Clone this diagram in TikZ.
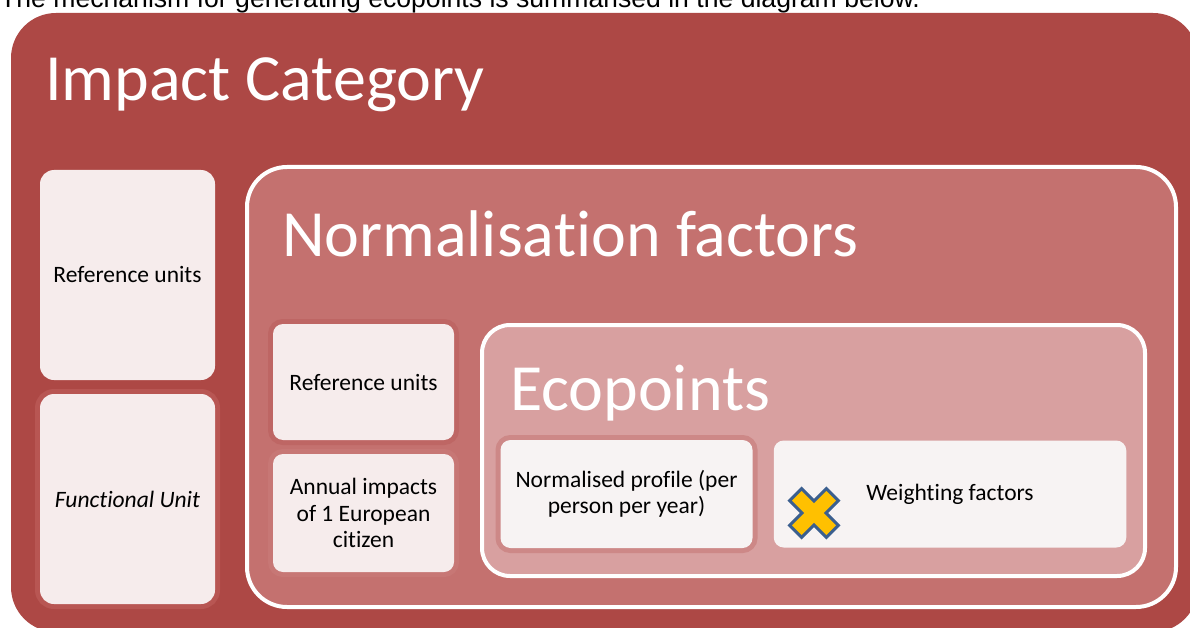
\documentclass[tikz,border=0pt]{standalone}
\usepackage{fontspec}
\setmainfont{Carlito}[Ligatures=NoCommon, Contextuals=NoAlternate, RawFeature=-liga]
\newfontfamily\arialfont{Liberation Sans}
\definecolor{outerred}{HTML}{AD4845}
\definecolor{normred}{HTML}{C4716F}
\definecolor{ecored}{HTML}{D8A0A0}
\definecolor{boxfill}{HTML}{F6ECEC}
\definecolor{ecofill}{HTML}{F7F3F3}
\definecolor{haloA}{HTML}{B85653}
\definecolor{haloB}{HTML}{BE6664}
\definecolor{haloC}{HTML}{C77775}
\definecolor{haloD}{HTML}{CD8887}
\definecolor{xblue}{HTML}{3B5F8F}
\definecolor{xyellow}{HTML}{FFC000}
\begin{document}
\begin{tikzpicture}[x=1pt,y=-1pt,
  lightbox/.style={rectangle, rounded corners=#1, fill=boxfill, inner sep=0pt, outer sep=0pt,
    font=\fontsize{23.5}{26.5}\selectfont, align=center, text=black},
  lightbox/.default=10pt,
  halo/.style={preaction={draw=#1, line width=10pt}},
  bigbox/.style={rectangle, inner sep=0pt, outer sep=0pt, draw=white, line width=4pt},
  titletext/.style={anchor=base west, inner sep=0pt, outer sep=0pt, text=white,
    font=\fontsize{66}{70}\selectfont}]
\useasboundingbox (0,0) rectangle (1190,628);
\clip (0,0) rectangle (1190,628);
\fill[white] (0,0) rectangle (1190,628);
% outer box
\node[rectangle, rounded corners=45pt, fill=outerred, inner sep=0pt, outer sep=0pt,
  minimum width=1187pt, minimum height=619pt] (impact) at (604.5,322.5) {};
% normalisation box
\node[bigbox, rounded corners=40pt, fill=normred, minimum width=929pt, minimum height=440pt]
  (norm) at (711.5,387) {};
% ecopoints box
\node[bigbox, rounded corners=28pt, fill=ecored, minimum width=663pt, minimum height=251pt]
  (eco) at (813.5,450.5) {};
% left column
\node[lightbox=14pt, minimum width=175pt, minimum height=210pt] (lref) at (127.5,275) {Reference units};
\node[lightbox=14pt, halo=haloA, minimum width=175pt, minimum height=210pt] (lfu) at (127.5,499) {\itshape Func\hbox{t}ional Unit};
% normalisation column
\node[lightbox, halo=haloB, minimum width=181pt, minimum height=116pt] (nref) at (363.5,382) {Reference units};
\node[lightbox, halo=haloC, minimum width=181pt, minimum height=118pt] (nann) at (363.5,513) {Annual impacts\\of 1 European\\citizen};
% ecopoints boxes
\node[lightbox, halo=haloD, fill=ecofill, minimum width=252pt, minimum height=108pt] (eprof) at (626.5,494) {Normalised profile (per\\person per year)};
\node[lightbox, fill=ecofill, minimum width=352.5pt, minimum height=107pt] (ewt) at (950,494) {Weighting factors};
% titles
\node[titletext] (timpact) at (45,101) {Impact Category};
\node[titletext] (tnorm) at (282,256) {Normalisa\hbox{t}ion factors};
\node[titletext] (teco) at (510,410) {Ecopoints};
% X icon
\coordinate (xicon) at (814,513);
\begin{scope}[shift={(xicon)}, rotate=45]
  \draw[draw=xblue, fill=xyellow, line width=3pt, line join=miter]
    (8.5,8.5) -- (26,8.5) -- (26,-8.5) -- (8.5,-8.5) -- (8.5,-26) -- (-8.5,-26) -- (-8.5,-8.5)
    -- (-26,-8.5) -- (-26,8.5) -- (-8.5,8.5) -- (-8.5,26) -- (8.5,26) -- cycle;
\end{scope}
% intro text (cut off at top, as in the reference)
\node[anchor=base west, inner sep=0pt, text=black, font=\arialfont\fontsize{26.6}{30}\selectfont]
  (intro) at (0,7.3) {The mechanism for generating ecopoints is summarised in the diagram below.};
\end{tikzpicture}
\end{document}
